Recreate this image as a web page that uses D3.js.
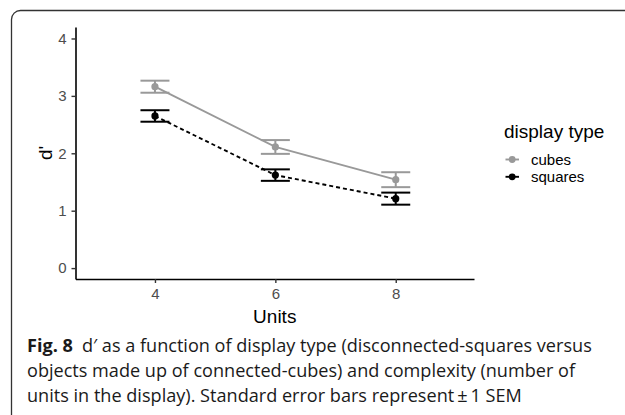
<!DOCTYPE html>
<html>
<head>
<meta charset="utf-8">
<script src="https://cdn.jsdelivr.net/npm/d3@7"></script>
<style>
  body { margin: 0; background: #fff; }
  svg { display: block; }
</style>
</head>
<body>
<div id="chart-container"></div>
<script>
// values
const units = [4, 6, 8];
const seriesNames = ['cubes', 'squares'];
const cubesMean = [3.16, 2.11, 1.54];
const cubesSE = [0.105, 0.12, 0.13];
const squaresMean = [2.65, 1.62, 1.21];
const squaresSE = [0.10, 0.10, 0.105];
const yTicks = [0, 1, 2, 3, 4];
const captionLines = [
  'd\u2032 as a function of display type (disconnected-squares versus',
  'objects made up of connected-cubes) and complexity (number of',
  'units in the display). Standard error bars represent\u2009\u00b1\u20091 SEM'
];

window.onload = () => {
  const W = 625, H = 415;
  const plotFont = '"Liberation Sans", Arial, sans-serif';
  const colors = { cubes: '#999999', squares: '#000000' };

  const svg = d3.select('#chart-container').append('svg')
    .attr('width', W).attr('height', H);

  // frame of the figure (only top/left visible)
  svg.append('rect')
    .attr('x', 11.5).attr('y', 10.5)
    .attr('width', 700).attr('height', 500)
    .attr('rx', 9)
    .attr('fill', 'none')
    .attr('stroke', '#333')
    .attr('stroke-width', 1.3);

  const x = d3.scaleLinear().domain([2.68, 9.3]).range([75.5, 474]);
  const y = d3.scaleLinear().domain([-0.19, 4.2]).range([279, 27]);

  const series = [
    { name: 'cubes', mean: cubesMean, se: cubesSE, dash: null },
    { name: 'squares', mean: squaresMean, se: squaresSE, dash: '4,3' }
  ];

  // axes
  const yAxis = svg.append('g')
    .attr('transform', `translate(${x.range()[0]},0)`)
    .call(d3.axisLeft(y).tickValues(yTicks).tickFormat(d3.format('d'))
      .tickSize(4).tickSizeOuter(0).tickPadding(5));
  const xAxis = svg.append('g')
    .attr('transform', `translate(0,${y.range()[0]})`)
    .call(d3.axisBottom(x).tickValues(units).tickFormat(d3.format('d'))
      .tickSize(4).tickSizeOuter(0).tickPadding(5));

  [xAxis, yAxis].forEach(g => {
    g.attr('font-family', null).attr('font-size', null);
    g.select('.domain').attr('stroke', '#000').attr('stroke-width', 1.6);
    g.selectAll('.tick line').attr('stroke', '#333').attr('stroke-width', 1.4);
    g.selectAll('.tick text')
      .attr('fill', '#4d4d4d')
      .style('font-family', plotFont)
      .style('font-size', '15px');
  });

  // lines
  const line = d3.line().x((d, i) => x(units[i])).y(d => y(d));
  series.forEach(s => {
    svg.append('path')
      .datum(s.mean)
      .attr('d', line)
      .attr('fill', 'none')
      .attr('stroke', colors[s.name])
      .attr('stroke-width', 1.9)
      .attr('stroke-dasharray', s.dash);
  });

  // error bars
  const capHalf = 14.5;
  series.forEach(s => {
    const g = svg.append('g').attr('stroke', colors[s.name]).attr('stroke-width', 2);
    s.mean.forEach((m, i) => {
      const cx = x(units[i]);
      const top = y(m + s.se[i]);
      const bot = y(m - s.se[i]);
      g.append('line').attr('x1', cx).attr('x2', cx).attr('y1', top).attr('y2', bot);
      g.append('line').attr('x1', cx - capHalf).attr('x2', cx + capHalf).attr('y1', top).attr('y2', top);
      g.append('line').attr('x1', cx - capHalf).attr('x2', cx + capHalf).attr('y1', bot).attr('y2', bot);
    });
  });

  // points
  series.forEach(s => {
    svg.append('g').selectAll('circle')
      .data(s.mean)
      .join('circle')
      .attr('cx', (d, i) => x(units[i]))
      .attr('cy', d => y(d))
      .attr('r', 3.6)
      .attr('fill', colors[s.name]);
  });

  // axis titles
  svg.append('text')
    .attr('x', (x.range()[0] + x.range()[1]) / 2)
    .attr('y', 323)
    .attr('text-anchor', 'middle')
    .style('font-family', plotFont)
    .style('font-size', '19px')
    .text('Units');

  svg.append('text')
    .attr('transform', `translate(52,${(y.range()[0] + y.range()[1]) / 2}) rotate(-90)`)
    .attr('text-anchor', 'middle')
    .style('font-family', plotFont)
    .style('font-size', '19px')
    .text("d'");

  // legend
  const legend = svg.append('g').style('font-family', plotFont);
  legend.append('text')
    .attr('x', 504).attr('y', 138)
    .style('font-size', '19px')
    .text('display type');

  seriesNames.forEach((name, i) => {
    const cy = 159.5 + i * 17.3;
    legend.append('line')
      .attr('x1', 505.5).attr('x2', 519)
      .attr('y1', cy).attr('y2', cy)
      .attr('stroke', colors[name]).attr('stroke-width', 1.9);
    legend.append('circle')
      .attr('cx', 512.2).attr('cy', cy).attr('r', 3.4)
      .attr('fill', colors[name]);
    legend.append('text')
      .attr('x', 531).attr('y', cy + 5.3)
      .style('font-size', '15px')
      .text(name);
  });

  // caption
  const cap = svg.append('g')
    .style('font-family', '"Open Sans", "Noto Sans", sans-serif')
    .style('font-size', '18.1px')
    .attr('fill', '#1a1a1a');

  captionLines.forEach((txt, i) => {
    const t = cap.append('text').attr('x', 27).attr('y', 352 + i * 25.2);
    if (i === 0) {
      t.append('tspan').style('font-weight', 'bold').text('Fig. 8');
      t.append('tspan').attr('dx', 9).text(txt);
    } else {
      t.text(txt);
    }
  });
};
</script>
</body>
</html>
